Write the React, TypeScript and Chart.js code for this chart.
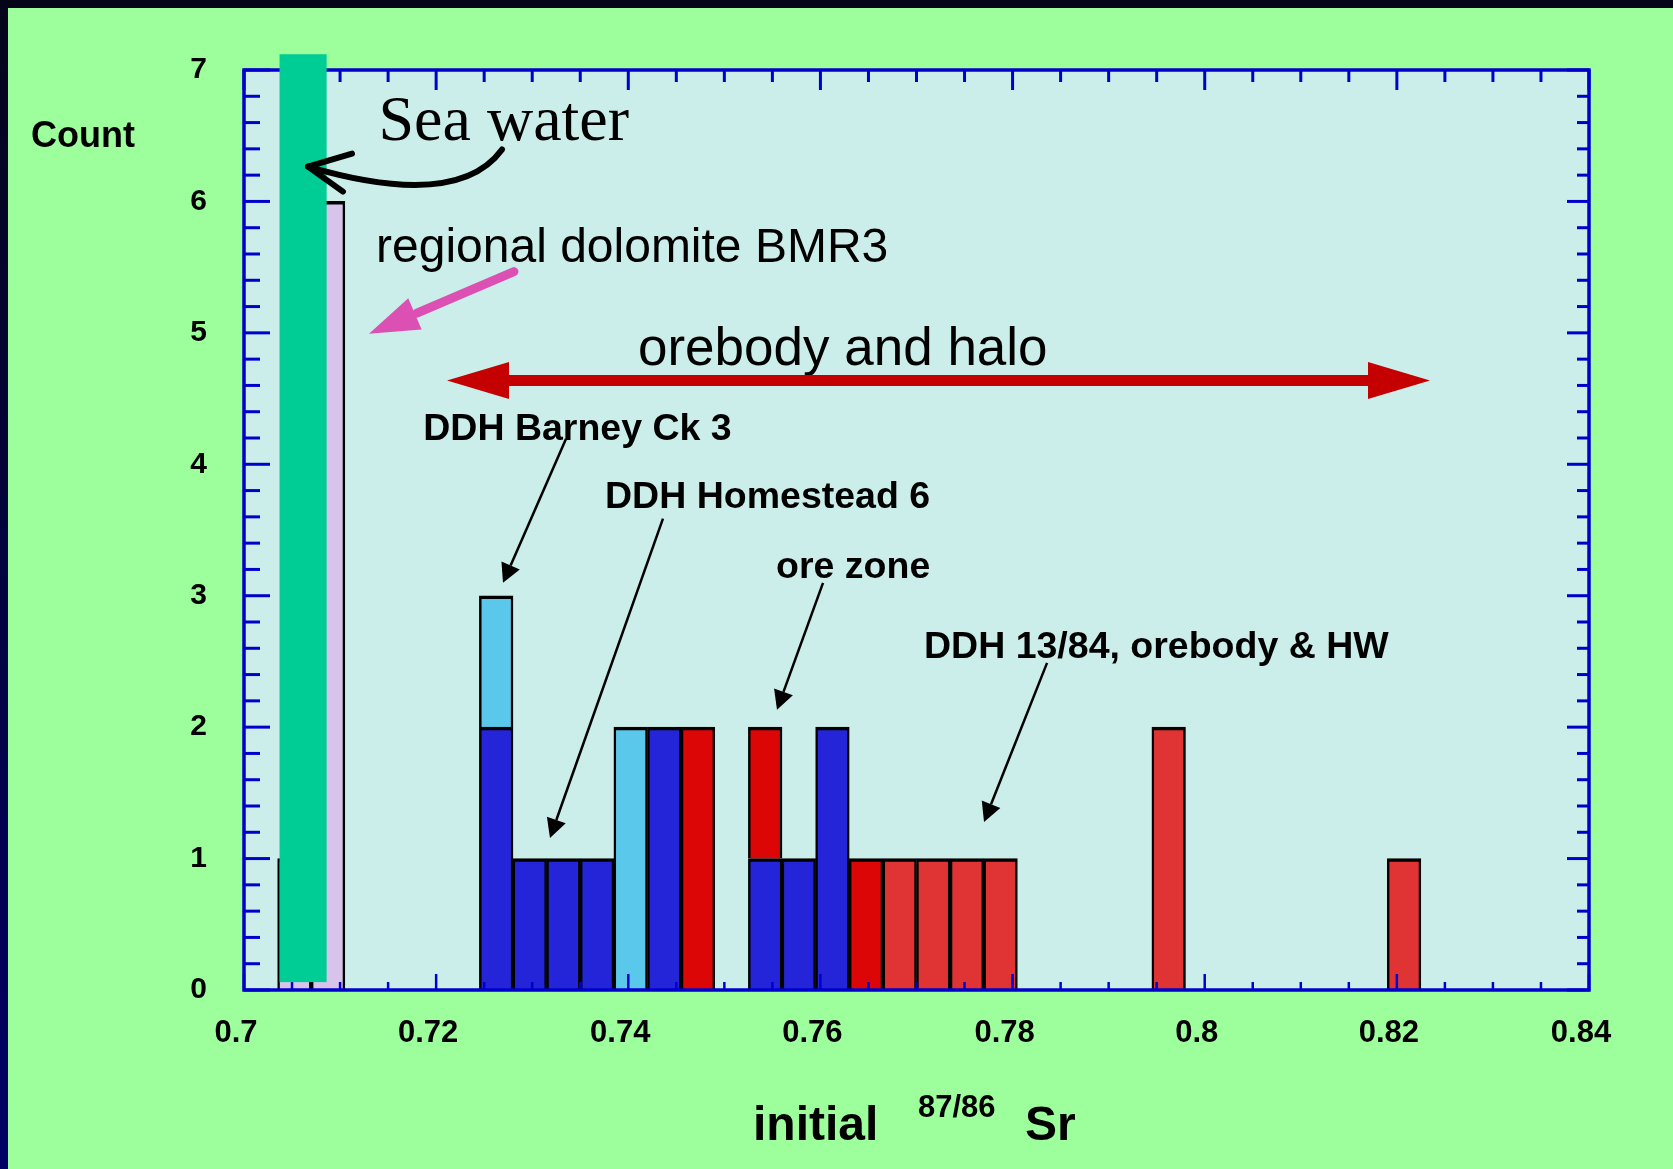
import React, { useEffect, useRef } from "react";
import Chart from "chart.js/auto";

// ---- data ----
// histogram bin centres, initial 87/86 Sr (bin width 0.0035)
const binCenters = [
  0.70525, 0.70875, 0.72625, 0.72975, 0.73325, 0.73675, 0.74025, 0.74375, 0.74725,
  0.75425, 0.75775, 0.76125, 0.76475, 0.76825, 0.77175, 0.77525, 0.77875, 0.79625, 0.82075,
];
const regionalDolomite = [1, 6, null, null, null, null, null, null, null, null, null, null, null, null, null, null, null, null, null];
const homestead6 = [null, null, 2, 1, 1, 1, null, 2, null, 1, 1, 2, null, null, null, null, null, null, null];
const barneyCk3 = [null, null, 1, null, null, null, 2, null, null, null, null, null, null, null, null, null, null, null, null];
const oreZone = [null, null, null, null, null, null, null, null, 2, 1, null, null, 1, null, null, null, null, null, null];
const ddh1384 = [null, null, null, null, null, null, null, null, null, null, null, null, null, 1, 1, 1, 1, 2, 1];
const seaWaterRange = [0.7037, 0.7086];
const xTickLabels = ["0.7", "0.72", "0.74", "0.76", "0.78", "0.8", "0.82", "0.84"];

// ---- styles ----
const PAGE_GREEN = "#9dff9b";
const PLOT_BG = "#cceeea";
const AXIS_BLUE = "#0000cc";
const SEA_GREEN = "#00cc96";
const SANS = "'Liberation Sans', Arial, sans-serif";
const SERIF = "'Liberation Serif', 'Times New Roman', serif";

// annotation layout (data coordinates)
const texts = [
  { t: "Sea water", x: 0.714, y: 6.47, font: `64px ${SERIF}` },
  { t: "regional dolomite BMR3", x: 0.71374, y: 5.542, font: `48px ${SANS}` },
  { t: "orebody and halo", x: 0.74101, y: 4.758, font: `53px ${SANS}` },
  { t: "DDH Barney Ck 3", x: 0.71866, y: 4.185, font: `bold 37.5px ${SANS}` },
  { t: "DDH Homestead 6", x: 0.73758, y: 3.669, font: `bold 37.5px ${SANS}` },
  { t: "ore zone", x: 0.75538, y: 3.135, font: `bold 37.5px ${SANS}` },
  { t: "DDH 13/84, orebody & HW", x: 0.77078, y: 2.527, font: `bold 37.5px ${SANS}` },
];
const pointers = [
  { from: [0.73352, 4.195], to: [0.72696, 3.098] },
  { from: [0.74361, 3.586], to: [0.73185, 1.157] },
  { from: [0.76027, 3.098], to: [0.75548, 2.132] },
  { from: [0.78359, 2.489], to: [0.77703, 1.279] },
];

function mk(series: (number | null)[]) {
  return binCenters.map((x, i) => ({ x, y: series[i] }));
}

function head(ctx: CanvasRenderingContext2D, tip: number[], from: number[], len: number, half: number) {
  const dx = tip[0] - from[0], dy = tip[1] - from[1];
  const d = Math.hypot(dx, dy);
  const ux = dx / d, uy = dy / d;
  const bx = tip[0] - ux * len, by = tip[1] - uy * len;
  ctx.beginPath();
  ctx.moveTo(tip[0], tip[1]);
  ctx.lineTo(bx - uy * half, by + ux * half);
  ctx.lineTo(bx + uy * half, by - ux * half);
  ctx.closePath();
  ctx.fill();
  return [bx, by];
}

const bgPlugin = {
  id: "bgPlugin",
  beforeDraw(chart: any) {
    const { ctx, width, height, chartArea: a } = chart;
    ctx.save();
    ctx.fillStyle = PAGE_GREEN;
    ctx.fillRect(0, 0, width, height);
    const g = ctx.createLinearGradient(0, 0, 0, height);
    g.addColorStop(0, "#05051a");
    g.addColorStop(1, "#000066");
    ctx.fillStyle = g;
    ctx.fillRect(0, 0, 8, height);
    ctx.fillStyle = "#05051a";
    ctx.fillRect(0, 0, width, 8);
    ctx.fillStyle = PLOT_BG;
    ctx.fillRect(a.left, a.top, a.right - a.left, a.bottom - a.top);
    ctx.restore();
  },
};

const overlayPlugin = {
  id: "overlayPlugin",
  afterDatasetsDraw(chart: any) {
    const { ctx, chartArea: a } = chart;
    const xs = chart.scales.x, ys = chart.scales.y;
    const P = (x: number, y: number) => [xs.getPixelForValue(x), ys.getPixelForValue(y)];
    ctx.save();
    // ticks (inward) on all four sides
    ctx.strokeStyle = AXIS_BLUE;
    ctx.lineCap = "butt";
    for (let k = 0; k <= 28; k++) {
      const px = xs.getPixelForValue(0.7 + k * 0.005);
      const major = k % 4 === 0;
      ctx.lineWidth = 2.5;
      ctx.beginPath();
      ctx.moveTo(px, a.bottom);
      ctx.lineTo(px, a.bottom - (major ? 16 : 8));
      ctx.stroke();
      ctx.lineWidth = 3;
      ctx.beginPath();
      ctx.moveTo(px, a.top);
      ctx.lineTo(px, a.top + (major ? 20 : 12));
      ctx.stroke();
    }
    for (let k = 0; k <= 35; k++) {
      const py = ys.getPixelForValue(k * 0.2);
      const major = k % 5 === 0;
      ctx.lineWidth = 3;
      ctx.beginPath();
      ctx.moveTo(a.left, py);
      ctx.lineTo(a.left + (major ? 26 : 16), py);
      ctx.stroke();
      ctx.beginPath();
      ctx.moveTo(a.right, py);
      ctx.lineTo(a.right - (major ? 22 : 12), py);
      ctx.stroke();
    }
    ctx.lineWidth = 3.5;
    ctx.strokeRect(a.left, a.top, a.right - a.left, a.bottom - a.top);

    // sea water band
    const [sx0, sy0] = P(seaWaterRange[0], 7.12);
    const [sx1, sy1] = P(seaWaterRange[1], 0.06);
    ctx.fillStyle = SEA_GREEN;
    ctx.fillRect(sx0, sy0, sx1 - sx0, sy1 - sy0);

    // texts
    ctx.fillStyle = "#000";
    ctx.textBaseline = "alphabetic";
    ctx.textAlign = "left";
    for (const t of texts) {
      const [px, py] = P(t.x, t.y);
      ctx.font = t.font;
      ctx.fillText(t.t, px, py);
    }

    // black pointer arrows
    ctx.strokeStyle = "#000";
    ctx.fillStyle = "#000";
    ctx.lineWidth = 2.5;
    for (const p of pointers) {
      const f = P(p.from[0], p.from[1]);
      const t = P(p.to[0], p.to[1]);
      const b = head(ctx, t, f, 19, 10);
      ctx.beginPath();
      ctx.moveTo(f[0], f[1]);
      ctx.lineTo(b[0], b[1]);
      ctx.stroke();
    }

    // curved sea-water arrow
    {
      const s = P(0.72686, 6.395), c1 = P(0.72352, 6.06), c2 = P(0.71624, 6.06), tip = P(0.70666, 6.265);
      const a1 = P(0.71124, 6.364), a2 = P(0.7103, 6.075);
      ctx.lineWidth = 6;
      ctx.lineCap = "round";
      ctx.lineJoin = "round";
      ctx.beginPath();
      ctx.moveTo(s[0], s[1]);
      ctx.bezierCurveTo(c1[0], c1[1], c2[0], c2[1], tip[0], tip[1]);
      ctx.stroke();
      ctx.beginPath();
      ctx.moveTo(a1[0], a1[1]);
      ctx.lineTo(tip[0], tip[1]);
      ctx.lineTo(a2[0], a2[1]);
      ctx.stroke();
    }

    // pink arrow
    {
      const tail = P(0.7281, 5.466), tip = P(0.71301, 4.994);
      ctx.fillStyle = "#dc50b4";
      ctx.strokeStyle = "#dc50b4";
      const b = head(ctx, tip, tail, 50, 17);
      ctx.lineWidth = 9;
      ctx.lineCap = "round";
      ctx.beginPath();
      ctx.moveTo(tail[0], tail[1]);
      ctx.lineTo(b[0] + (tail[0] - b[0]) * 0.02, b[1] + (tail[1] - b[1]) * 0.02);
      ctx.stroke();
    }

    // red double arrow
    {
      const l = P(0.72113, 4.638), r = P(0.82345, 4.638);
      ctx.fillStyle = "#c40000";
      ctx.strokeStyle = "#c40000";
      const bl = head(ctx, l, r, 62, 18.5);
      const br = head(ctx, r, l, 62, 18.5);
      ctx.lineWidth = 11;
      ctx.lineCap = "butt";
      ctx.beginPath();
      ctx.moveTo(bl[0] - 1, bl[1]);
      ctx.lineTo(br[0] + 1, br[1]);
      ctx.stroke();
    }
    ctx.restore();
  },
  afterDraw(chart: any) {
    const { ctx } = chart;
    ctx.save();
    ctx.fillStyle = "#000";
    ctx.textBaseline = "alphabetic";
    ctx.textAlign = "left";
    ctx.font = `bold 36px ${SANS}`;
    ctx.fillText("Count", 31, 147);
    ctx.font = `bold 48px ${SANS}`;
    ctx.fillText("initial", 753, 1140);
    ctx.fillText("Sr", 1025, 1140);
    ctx.font = `bold 31px ${SANS}`;
    ctx.fillText("87/86", 918, 1117);
    ctx.restore();
  },
};

export default function App() {
  const ref = useRef<HTMLCanvasElement>(null);
  useEffect(() => {
    document.body.style.margin = "0";
    document.body.style.overflow = "hidden";
    const canvas = ref.current!;
    const bw = { top: 3.5, left: 2.5, right: 2.5, bottom: 0 };
    const ds = (label: string, data: (number | null)[], color: string) => ({
      label,
      data: mk(data),
      backgroundColor: color,
      borderColor: "#000",
      borderWidth: bw,
      borderSkipped: "start",
      categoryPercentage: 1,
      barPercentage: 1,
    });
    const chart = new Chart(canvas, {
      type: "bar",
      data: {
        datasets: [
          ds("regional dolomite BMR3", regionalDolomite, "#d8c4ea"),
          ds("DDH Homestead 6", homestead6, "#2424d8"),
          ds("DDH Barney Ck 3", barneyCk3, "#5ac8eb"),
          ds("ore zone", oreZone, "#dc0606"),
          ds("DDH 13/84, orebody & HW", ddh1384, "#e03333"),
        ] as any,
      },
      options: {
        responsive: false,
        animation: false,
        devicePixelRatio: 1,
        layout: { padding: { left: 144, right: 84, top: 70, bottom: 0 } },
        plugins: { legend: { display: false }, tooltip: { enabled: false } },
        scales: {
          x: {
            type: "linear",
            stacked: true,
            min: 0.7,
            max: 0.84,
            offset: false,
            grid: { display: false, drawTicks: false },
            border: { display: false },
            ticks: {
              stepSize: 0.02,
              padding: 25,
              labelOffset: -8,
              color: "#000",
              autoSkip: false,
              maxRotation: 0,
              font: { family: SANS, weight: "bold", size: 31 },
              callback: (v: any) => {
                const i = Math.round((Number(v) - 0.7) / 0.02);
                return xTickLabels[i] ?? "";
              },
            },
            afterFit: (s: any) => {
              s.height = 179;
            },
          },
          y: {
            stacked: true,
            min: 0,
            max: 7,
            grid: { display: false, drawTicks: false },
            border: { display: false },
            ticks: {
              stepSize: 1,
              padding: 37,
              color: "#000",
              font: { family: SANS, weight: "bold", size: 30 },
            },
            afterFit: (s: any) => {
              s.width = 100;
            },
          },
        },
      } as any,
      plugins: [bgPlugin, overlayPlugin],
    });
    return () => chart.destroy();
  }, []);
  return <canvas ref={ref} width={1673} height={1169} style={{ display: "block" }} />;
}
